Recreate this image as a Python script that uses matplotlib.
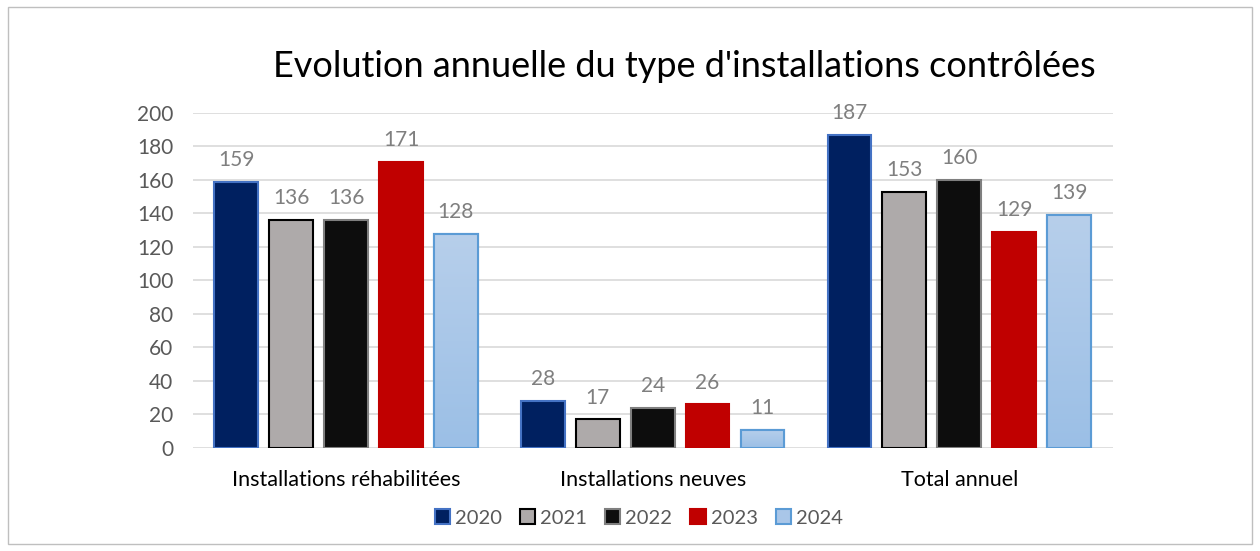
import numpy as np
import matplotlib
matplotlib.use("Agg")
import matplotlib.pyplot as plt
from matplotlib.patches import Rectangle

categories = ["Installations réhabilitées", "Installations neuves", "Total annuel"]
years = ["2020", "2021", "2022", "2023", "2024"]
v2020 = [159, 28, 187]
v2021 = [136, 17, 153]
v2022 = [136, 24, 160]
v2023 = [171, 26, 129]
v2024 = [128, 11, 139]
series = [v2020, v2021, v2022, v2023, v2024]

faces = ["#002060", "#AEAAAA", "#0D0D0D", "#C00000", "#A9C6E8"]
edges = ["#4472C4", "#000000", "#7F7F7F", "#C00000", "#5B9BD5"]

plt.rcParams['font.family'] = ['Lato', 'DejaVu Sans']

fig = plt.figure(figsize=(12.6, 5.51), dpi=100)
fig.patches.append(Rectangle((0.006, 0.012), 0.988, 0.976, transform=fig.transFigure,
                             fill=False, edgecolor="#BFBFBF", linewidth=1))
ax = fig.add_axes([0.153, 0.187, 0.730, 0.608])

x = np.arange(len(categories))
width = 0.143
step = 0.179
for i, vals in enumerate(series):
    pos = x + (i - 2) * step
    bars = ax.bar(pos, vals, width, color=faces[i], edgecolor=edges[i],
                  linewidth=1.5, zorder=3, label=years[i])
    if i == 4:
        # vertical gradient for the 2024 bars
        grad = np.linspace(0, 1, 256).reshape(-1, 1)
        cmap = matplotlib.colors.LinearSegmentedColormap.from_list("g", ["#9BBFE6", "#B7CFEB"])
        for b in bars:
            bx, by = b.get_x(), b.get_y()
            im = ax.imshow(grad, cmap=cmap, aspect="auto", origin="lower",
                           extent=[bx, bx + b.get_width(), by, by + b.get_height()],
                           zorder=3.1)
            im.set_clip_path(b)
            ax.add_patch(Rectangle((bx, by), b.get_width(), b.get_height(), fill=False,
                                   edgecolor=edges[i], linewidth=1.5, zorder=3.2))
    for p, v in zip(pos, vals):
        ax.text(p, v + 7, str(v), ha="center", va="bottom", fontsize=15, color="#7F7F7F")

ax.set_xlim(-0.5, 2.5)
ax.set_ylim(0, 200)
ax.set_yticks(range(0, 201, 20))
ax.yaxis.grid(True, color="#D9D9D9", linewidth=1.2, zorder=0)
ax.set_axisbelow(True)
for s in ax.spines.values():
    s.set_visible(False)
ax.tick_params(axis="y", length=0, labelsize=15, labelcolor="#595959", pad=14)
ax.tick_params(axis="x", length=0, labelsize=15.5, labelcolor="#000000", pad=16)
ax.set_xticks(x)
ax.set_xticklabels(categories)

fig.text(0.543, 0.88, "Evolution annuelle du type d'installations contrôlées",
         ha="center", va="center", fontsize=26, color="#000000")

leg = fig.legend(loc="center", bbox_to_anchor=(0.507, 0.06), ncol=5, frameon=False,
                 fontsize=14.5, handlelength=0.75, handleheight=0.75, handletextpad=0.25,
                 columnspacing=0.9)
for t in leg.get_texts():
    t.set_color("#595959")

fig.savefig("out.png", dpi=100)
